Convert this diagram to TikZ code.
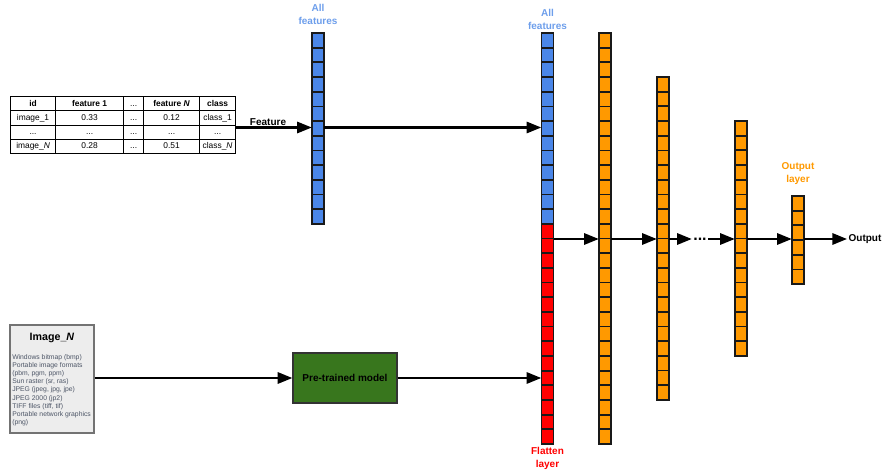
\documentclass[tikz,border=0pt]{standalone}
\usepackage{fontspec}
\setmainfont{Liberation Sans}
\usepackage{array}
\usepackage{xcolor}
\usepackage{tikz}
\usetikzlibrary{arrows.meta, positioning, calc, fit}

\definecolor{featblue}{HTML}{4A86E8}
\definecolor{labblue}{HTML}{6D9EEB}
\definecolor{flatred}{HTML}{FF0000}
\definecolor{hidorange}{HTML}{FF9900}
\definecolor{modelgreen}{HTML}{38761D}
\definecolor{listgrey}{HTML}{4C5566}

\setlength{\tabcolsep}{0pt}
\renewcommand{\arraystretch}{1.28}

% centre x, top y, first cell, last cell, colour
\newcommand{\cellstack}[5]{%
  \foreach \k in {#3,...,#4}
    \fill[#5] ({#1-6},{#2+(\k-1)*14.68}) rectangle ++(12,14.68);
  \foreach \k in {#3,...,#4}
    \draw[cellbox] ({#1-6},{#2+(\k-1)*14.68}) rectangle ++(12,14.68);
}

\begin{document}
\begin{tikzpicture}[x=0.75pt, y=-0.75pt,
  cellbox/.style={draw=black!90, line width=1.3pt},
  arr/.style={-{Triangle[length=11pt,width=8.5pt]}, line width=1.6pt},
  lab/.style={font=\bfseries\fontsize{7.5}{9.75}\selectfont, align=center, inner sep=0pt}]
  \useasboundingbox (0,0) rectangle (892,470);

  % data table
  \node[anchor=north west, inner sep=0, font=\fontsize{6.3}{8}\selectfont] (tab) at (10,96) {%
    \begin{tabular}{|w{c}{33.4pt}|w{c}{50.6pt}|w{c}{14.6pt}|w{c}{41.6pt}|w{c}{26.6pt}|}
      \hline
      \textbf{id} & \textbf{feature 1} & ... & \textbf{feature \textit{N}} & \textbf{class}\\ \hline
      image\_1 & 0.33 & ... & 0.12 & class\_1\\ \hline
      ... & ... & ... & ... & ...\\ \hline
      image\_\textit{N} & 0.28 & ... & 0.51 & class\_\textit{N}\\ \hline
    \end{tabular}};

  % layers
  \cellstack{318}{33}{1}{13}{featblue}
  \node[fit={(312,33) (324,223.8)}, inner sep=0] (feat) {};
  \cellstack{547.5}{33}{1}{13}{featblue}
  \cellstack{547.5}{33}{14}{28}{flatred}
  \node[fit={(541.5,33) (553.5,444)}, inner sep=0] (flat) {};
  \cellstack{605}{33}{1}{28}{hidorange}
  \node[fit={(599,33) (611,444)}, inner sep=0] (hid1) {};
  \cellstack{663}{77}{1}{22}{hidorange}
  \node[fit={(657,77) (669,400)}, inner sep=0] (hid2) {};
  \cellstack{741}{121}{1}{16}{hidorange}
  \node[fit={(735,121) (747,356)}, inner sep=0] (hid3) {};
  \cellstack{798}{196}{1}{6}{hidorange}
  \node[fit={(792,196) (804,284)}, inner sep=0] (outl) {};

  \node[lab, text=labblue] (featlab) at (318,14) {All\\features};
  \node[lab, text=labblue] (flatlab1) at (547.5,19) {All\\features};
  \node[lab, text=flatred] (flatlab2) at (547.5,458) {Flatten\\layer};
  \node[lab, text=hidorange] (outlab) at (798,174) {Output\\layer};

  % features path
  \coordinate (fy) at (0,127.5);
  \draw[arr] (tab.east |- fy) -- (feat.west |- fy);
  \node[anchor=south, inner sep=0, font=\bfseries\fontsize{7.5}{9}\selectfont] (featname) at (268,125.5) {Feature};
  \draw[arr] (feat.east |- fy) -- (flat.west |- fy);

  % dense layers
  \coordinate (hy) at (0,239);
  \node[inner sep=1pt, font=\bfseries\fontsize{12}{14}\selectfont] (dots) at (700,239) {...};
  \node[anchor=west, inner sep=1pt, font=\bfseries\fontsize{7.5}{9}\selectfont] (outtxt) at (847,239) {Output};
  \draw[arr] (flat.east |- hy) -- (hid1.west |- hy);
  \draw[arr] (hid1.east |- hy) -- (hid2.west |- hy);
  \draw[arr] (hid2.east |- hy) -- (dots.west);
  \draw[arr] (dots.east) -- (hid3.west |- hy);
  \draw[arr] (hid3.east |- hy) -- (outl.west |- hy);
  \draw[arr] (outl.east |- hy) -- (outtxt.west);

  % image path
  \node[fit={(10,325) (94,433)}, inner sep=0, draw=black!55, fill=black!7, line width=0.8pt] (img) {};
  \node[font=\bfseries\fontsize{8}{10}\selectfont] (imgtitle) at (52,338) {Image\_\textit{N}};
  \node[anchor=north west, align=left, inner sep=0, text=listgrey, font=\fontsize{5.1}{6.15}\selectfont] (imglist) at (12,354)
    {Windows bitmap (bmp)\\ Portable image formats\\ (pbm, pgm, ppm)\\ Sun raster (sr, ras)\\ JPEG (jpeg, jpg, jpe)\\
     JPEG 2000 (jp2)\\ TIFF files (tiff, tif)\\ Portable network graphics\\ (png)};
  \node[draw=black!80, fill=modelgreen, line width=1pt, minimum width=78pt, minimum height=37.5pt,
    font=\bfseries\fontsize{7.5}{9}\selectfont] (model) at (345,378) {Pre-trained model};
  \draw[arr] (img.east |- model.west) -- (model.west);
  \draw[arr] (model.east) -- (flat.west |- model.east);
\end{tikzpicture}
\end{document}
